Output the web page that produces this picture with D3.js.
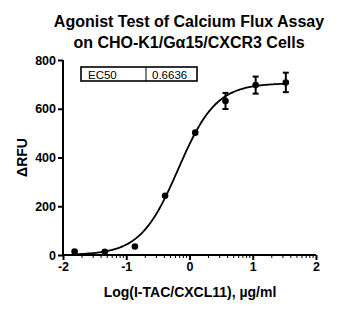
<!DOCTYPE html>
<html><head><meta charset="utf-8">
<script src="https://cdn.jsdelivr.net/npm/d3@7"></script>
<style>body{margin:0;background:#fff;} svg{display:block;font-family:"Liberation Sans",Arial,sans-serif;}</style>
</head><body>
<script>
const titleLines = ["Agonist Test of Calcium Flux Assay", "on CHO-K1/G\u03b115/CXCR3 Cells"];
const xLabel = "Log(I-TAC/CXCL11), \u00b5g/ml";
const yLabel = "\u0394RFU";
const logConc = [-1.817, -1.340, -0.863, -0.386, 0.091, 0.569, 1.046, 1.523];
const meanRFU = [14, 13, 35, 243, 502, 632, 697, 708];
const sdRFU = [0, 0, 0, 0, 0, 33, 35, 40];
const xTicks = [-2, -1, 0, 1, 2];
const yTicks = [0, 200, 400, 600, 800];
const ec50Label = "EC50";
const ec50Value = "0.6636";
const fitBottom = 0, fitTop = 705, fitHill = 1.45;
const fitLogEC50 = Math.log10(0.6636);

const W = 357, H = 310;
const svg = d3.select("body").append("svg").attr("width", W).attr("height", H);
const x = d3.scaleLinear().domain([-2, 2]).range([63, 316]);
const y = d3.scaleLinear().domain([0, 800]).range([255, 60]);

svg.selectAll("text.title").data(titleLines).join("text")
  .attr("x", 189).attr("y", (d, i) => 27 + i * 21)
  .attr("text-anchor", "middle").attr("font-weight", "bold").attr("font-size", 16)
  .text(d => d);

// y axis
const yAxis = svg.append("g").attr("transform", `translate(${x(-2)},0)`)
  .call(d3.axisLeft(y).tickValues(yTicks).tickSize(5).tickPadding(2));
yAxis.select(".domain").attr("stroke-width", 2).attr("d", `M0,${y(0)+1}V${y(800)}`);
yAxis.selectAll(".tick line").attr("stroke-width", 2);
yAxis.selectAll(".tick text").attr("font-size", 12.5).attr("font-weight", "bold").attr("font-family", "Liberation Sans, Arial, sans-serif").attr("fill", "#000");

// x axis
const xAxis = svg.append("g").attr("transform", `translate(0,${y(0)})`)
  .call(d3.axisBottom(x).tickValues(xTicks).tickSize(5).tickPadding(2).tickFormat(d3.format("d")));
xAxis.select(".domain").attr("stroke-width", 2).attr("d", `M${x(-2)-1},0H${x(2)}`);
xAxis.selectAll(".tick line").attr("stroke-width", 2);
xAxis.selectAll(".tick text").attr("font-size", 12.5).attr("font-weight", "bold").attr("font-family", "Liberation Sans, Arial, sans-serif").attr("fill", "#000")
  .text(d => d < 0 ? "-" + Math.abs(d) : d);
const minor = [];
for (let dec = -2; dec < 2; dec++) for (let m = 2; m <= 9; m++) minor.push(dec + Math.log10(m));
xAxis.selectAll("line.minor").data(minor).join("line")
  .attr("x1", d => x(d)).attr("x2", d => x(d)).attr("y1", 0).attr("y2", 3)
  .attr("stroke", "#000").attr("stroke-width", 1);

// labels
svg.append("text").attr("x", 190).attr("y", 297).attr("text-anchor", "middle")
  .attr("font-weight", "bold").attr("font-size", 14).text(xLabel);
svg.append("text").attr("transform", `translate(27,${y(400)}) rotate(-90)`).attr("text-anchor", "middle")
  .attr("font-weight", "bold").attr("font-size", 14).text(yLabel);

// fit curve
const curveX = d3.range(logConc[0], logConc[logConc.length - 1] + 0.001, 0.02);
const fit = lx => fitBottom + (fitTop - fitBottom) / (1 + Math.pow(10, (fitLogEC50 - lx) * fitHill));
svg.append("path").datum(curveX)
  .attr("d", d3.line().x(d => x(d)).y(d => y(fit(d))))
  .attr("fill", "none").attr("stroke", "#000").attr("stroke-width", 1.8);

// error bars
const pts = logConc.map((v, i) => ({x: v, y: meanRFU[i], e: sdRFU[i]}));
const eb = svg.selectAll("g.eb").data(pts.filter(d => d.e > 0)).join("g");
eb.append("line").attr("x1", d => x(d.x)).attr("x2", d => x(d.x))
  .attr("y1", d => y(d.y - d.e)).attr("y2", d => y(d.y + d.e)).attr("stroke", "#000").attr("stroke-width", 2);
eb.append("line").attr("x1", d => x(d.x) - 3).attr("x2", d => x(d.x) + 3)
  .attr("y1", d => y(d.y - d.e)).attr("y2", d => y(d.y - d.e)).attr("stroke", "#000").attr("stroke-width", 2);
eb.append("line").attr("x1", d => x(d.x) - 3).attr("x2", d => x(d.x) + 3)
  .attr("y1", d => y(d.y + d.e)).attr("y2", d => y(d.y + d.e)).attr("stroke", "#000").attr("stroke-width", 2);

svg.selectAll("circle.pt").data(pts).join("circle")
  .attr("cx", d => x(d.x)).attr("cy", d => y(d.y)).attr("r", 3.3).attr("fill", "#000");

// EC50 box
const box = svg.append("g");
box.append("rect").attr("x", 81).attr("y", 67).attr("width", 116).attr("height", 14)
  .attr("fill", "#fff").attr("stroke", "#000").attr("stroke-width", 1.6);
box.append("line").attr("x1", 146).attr("x2", 146).attr("y1", 67).attr("y2", 81).attr("stroke", "#000").attr("stroke-width", 1);
box.append("text").attr("x", 88).attr("y", 78.5).attr("font-size", 11.5).text(ec50Label);
box.append("text").attr("x", 152).attr("y", 78.5).attr("font-size", 11.5).text(ec50Value);
</script>
</body></html>
